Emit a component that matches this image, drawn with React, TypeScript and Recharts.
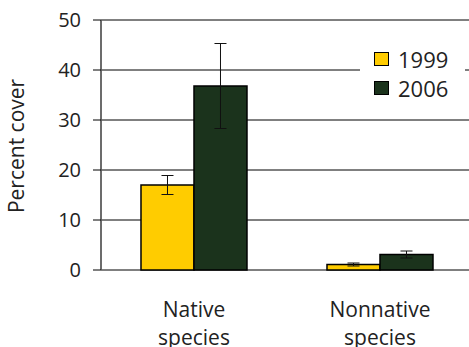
import React from "react";
import {
  BarChart,
  Bar,
  XAxis,
  YAxis,
  CartesianGrid,
  ErrorBar,
  Legend,
} from "recharts";

const categories = ["Native species", "Nonnative species"];
const cover1999 = [17, 1.1];
const cover2006 = [36.8, 3.1];
const err1999 = [1.9, 0.3];
const err2006 = [8.5, 0.7];
const yTicks = [0, 10, 20, 30, 40, 50];
const series = [
  { key: "y1999", name: "1999", color: "#FFCC00" },
  { key: "y2006", name: "2006", color: "#1B331C" },
];

const data = categories.map((c, i) => ({
  name: c,
  y1999: cover1999[i],
  y2006: cover2006[i],
  e1999: err1999[i],
  e2006: err2006[i],
}));

const FONT = "'Open Sans', sans-serif";

function CategoryTick({ x, y, payload }: any) {
  const words = String(payload.value).split(" ");
  return (
    <text x={x} y={y} textAnchor="middle" fontFamily={FONT} fontSize={21} fill="#222">
      {words.map((w, i) => (
        <tspan key={i} x={x} dy={i === 0 ? 47 : 28}>
          {w}
        </tspan>
      ))}
    </text>
  );
}

function LegendBox() {
  return (
    <div style={{ background: "#fff", padding: "4px 0 6px 14px", fontFamily: FONT }}>
      {series.map((s) => (
        <div key={s.key} style={{ display: "flex", alignItems: "center", height: 29 }}>
          <span
            style={{
              display: "inline-block",
              width: 13,
              height: 12,
              background: s.color,
              border: "1.5px solid #000",
              marginRight: 9,
            }}
          />
          <span style={{ fontSize: 22, color: "#222" }}>{s.name}</span>
        </div>
      ))}
    </div>
  );
}

export default function App() {
  return (
    <div style={{ position: "absolute", left: 0, top: 0, width: 469, height: 347, overflow: "hidden", background: "#fff" }}>
      <BarChart
        width={473}
        height={347}
        data={data}
        margin={{ top: 20, right: 0, bottom: 0, left: 0 }}
        barCategoryGap="21.5%"
        barGap={0}
      >
        <CartesianGrid xAxisId="num" stroke="#000" strokeWidth={1} />
        <XAxis
          xAxisId="num"
          type="number"
          domain={[0, 2]}
          ticks={[0, 1, 2]}
          height={0}
          tickSize={8}
          tickFormatter={() => ""}
          axisLine={{ stroke: "#666", strokeWidth: 1.5 }}
          tickLine={{ stroke: "#444", strokeWidth: 1.5 }}
        />
        <XAxis
          xAxisId="cat"
          dataKey="name"
          height={77}
          axisLine={false}
          tickLine={false}
          tickSize={0}
          tickMargin={0}
          interval={0}
          tick={<CategoryTick />}
        />
        <YAxis
          width={101}
          domain={[0, 50]}
          ticks={yTicks}
          tickSize={8}
          tickMargin={12}
          axisLine={{ stroke: "#666", strokeWidth: 1.5 }}
          tickLine={{ stroke: "#000" }}
          tick={{ fontFamily: FONT, fontSize: 20, fill: "#222" }}
          label={{
            content: ({ viewBox }: any) => (
              <text
                x={16}
                y={viewBox.y + viewBox.height / 2 + 1}
                transform={`rotate(-90, 16, ${viewBox.y + viewBox.height / 2 + 1})`}
                textAnchor="middle"
                dominantBaseline="central"
                fontFamily={FONT}
                fontSize={21}
                fill="#222"
              >
                Percent cover
              </text>
            ),
          }}
        />
        <Legend
          layout="vertical"
          align="center"
          verticalAlign="middle"
          wrapperStyle={{ position: "absolute", left: 360, top: 40, width: 105 }}
          content={<LegendBox />}
        />
        {series.map((s) => (
          <Bar
            key={s.key}
            xAxisId="cat"
            dataKey={s.key}
            name={s.name}
            fill={s.color}
            stroke="#000"
            strokeWidth={1.5}
            isAnimationActive={false}
          >
            <ErrorBar
              dataKey={s.key === "y1999" ? "e1999" : "e2006"}
              width={6}
              stroke="#111"
              strokeWidth={1}
            />
          </Bar>
        ))}
      </BarChart>
    </div>
  );
}
